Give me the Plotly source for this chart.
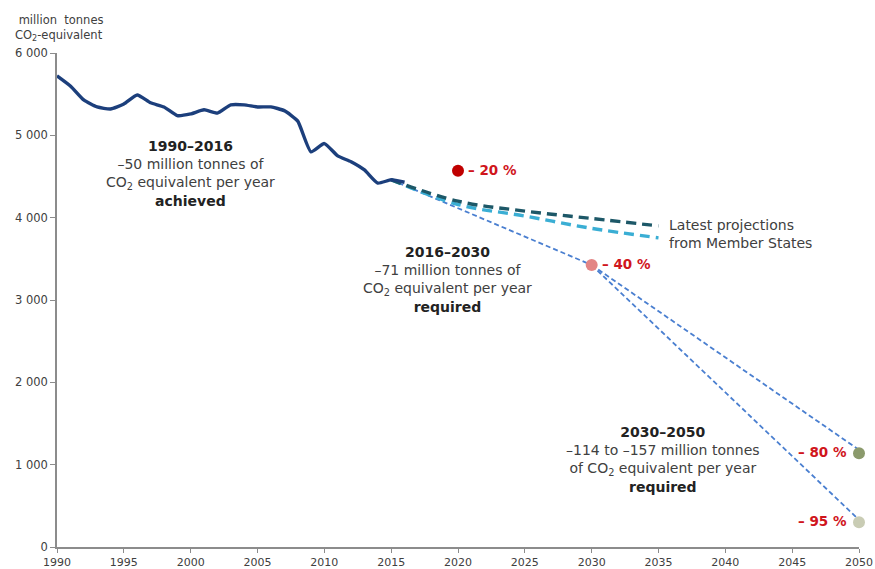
import plotly.graph_objects as go

# ---- data ----
hist_years = list(range(1990, 2017))
hist_values = [5723, 5600, 5430, 5345, 5320, 5380, 5490, 5395, 5345, 5240,
               5260, 5310, 5270, 5370, 5370, 5345, 5345, 5300, 5175, 4800,
               4900, 4750, 4680, 4580, 4420, 4460, 4430]

proj_years = [2015, 2020, 2025, 2030, 2035]
proj_wem = [4460, 4200, 4080, 3990, 3900]
proj_wam = [4460, 4160, 4020, 3870, 3755]

path1_years = [2015, 2030]
path1_values = [4460, 3425]
path2_years = [2030, 2050]
path2a_values = [3425, 1180]
path2b_values = [3425, 330]

target_years = [2020, 2030, 2050, 2050]
target_values = [4570, 3425, 1140, 300]
target_labels = ["– 20 %", "– 40 %", "– 80 %", "– 95 %"]
target_colors = ["#c00000", "#e38585", "#8b9a6c", "#c9ccb4"]

y_tickvals = [0, 1000, 2000, 3000, 4000, 5000, 6000]
y_ticktext = ["0", "1 000", "2 000", "3 000", "4 000", "5 000", "6 000"]
x_tickvals = list(range(1990, 2051, 5))

FONT = "DejaVu Sans"
THIN_DASH = "5px,3px"
THICK_DASH = "10px,6px"

fig = go.Figure()

for xs, ys in [(path1_years, path1_values), (path2_years, path2a_values), (path2_years, path2b_values)]:
    fig.add_trace(go.Scatter(x=xs, y=ys, mode="lines",
                             line=dict(color="#4a7fd0", width=1.8, dash=THIN_DASH),
                             showlegend=False, hoverinfo="skip"))
fig.add_trace(go.Scatter(x=proj_years, y=proj_wam, mode="lines",
                         line=dict(color="#3aaed4", width=3.4, dash=THICK_DASH, shape="spline"),
                         showlegend=False))
fig.add_trace(go.Scatter(x=proj_years, y=proj_wem, mode="lines",
                         line=dict(color="#1d5868", width=3.4, dash=THICK_DASH, shape="spline"),
                         showlegend=False))
fig.add_trace(go.Scatter(x=hist_years, y=hist_values, mode="lines",
                         line=dict(color="#1c3f7c", width=3.4, shape="spline", smoothing=0.5),
                         showlegend=False))
fig.add_trace(go.Scatter(x=target_years, y=target_values, mode="markers",
                         marker=dict(color=target_colors, size=12),
                         cliponaxis=False, showlegend=False))

# target labels
label_pos = [("left", 8), ("left", 8), ("right", -10), ("right", -10)]
for yr, v, t, (anc, dx) in zip(target_years, target_values, target_labels, label_pos):
    fig.add_annotation(x=yr, y=v, text="<b>" + t + "</b>", showarrow=False,
                       xanchor=anc, xshift=dx, yshift=1,
                       font=dict(family=FONT, size=13.5, color="#d0151c"))

def block(x, y, lines):
    fig.add_annotation(x=x, y=y, xref="x", yref="y", text="<br>".join(lines),
                       showarrow=False, align="center", xanchor="center", yanchor="top",
                       font=dict(family=FONT, size=14, color="#404040"))

block(1999.95, 4990, ["<b><span style='color:#222'>1990–2016</span></b>",
                      "–50 million tonnes of",
                      "CO<sub>2</sub> equivalent per year",
                      "<b><span style='color:#222'>achieved</span></b>"])
block(2019.25, 3700, ["<b><span style='color:#222'>2016–2030</span></b>",
                      "–71 million tonnes of",
                      "CO<sub>2</sub> equivalent per year",
                      "<b><span style='color:#222'>required</span></b>"])
block(2035.3, 1515, ["<b><span style='color:#222'>2030–2050</span></b>",
                     "–114 to –157 million tonnes",
                     "of CO<sub>2</sub> equivalent per year",
                     "<b><span style='color:#222'>required</span></b>"])

fig.add_annotation(x=2035.6, y=3800, text="Latest projections<br>from Member States",
                   showarrow=False, xanchor="left", align="left",
                   font=dict(family=FONT, size=14, color="#404040"))

fig.add_annotation(x=-0.054, y=1.082, xref="paper", yref="paper", xanchor="left", yanchor="top",
                   text=" million  tonnes<br>CO<sub>2</sub>-equivalent", showarrow=False,
                   align="left", borderpad=0,
                   font=dict(family=FONT, size=11.5, color="#404040"))

fig.update_layout(
    width=875, height=569,
    margin=dict(l=57, r=16, t=53, b=22),
    paper_bgcolor="white", plot_bgcolor="white",
    showlegend=False,
    font=dict(family=FONT, color="#404040"),
)
fig.update_xaxes(range=[1990, 2050], tickvals=x_tickvals, showgrid=False, zeroline=False,
                 automargin=False,
                 showline=True, linecolor="#8c8c8c", linewidth=1.5,
                 ticks="outside", ticklen=4, tickcolor="#8c8c8c",
                 tickfont=dict(family=FONT, size=11, color="#404040"))
fig.update_yaxes(range=[0, 6000], tickvals=y_tickvals, ticktext=y_ticktext, showgrid=False,
                 automargin=False,
                 zeroline=False, showline=True, linecolor="#8c8c8c", linewidth=1.5,
                 ticks="outside", ticklen=5, tickcolor="#8c8c8c",
                 tickfont=dict(family=FONT, size=11.5, color="#404040"))

# remove the default 8 px page margin so the figure fills the 875x569 window exactly
fig.write_html("out.html", config={"displayModeBar": False},
               post_script="document.body.style.margin='0';document.body.style.overflow='hidden';")
